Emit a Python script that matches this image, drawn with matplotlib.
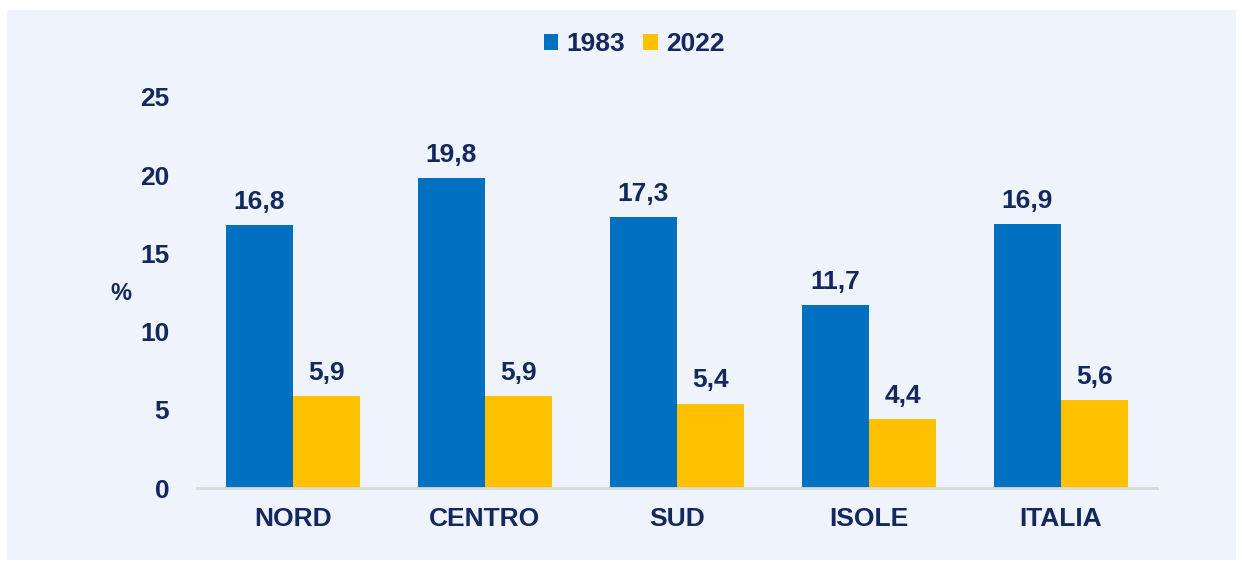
import numpy as np
import matplotlib.pyplot as plt
from matplotlib.patches import Rectangle

categories = ['NORD', 'CENTRO', 'SUD', 'ISOLE', 'ITALIA']
values_1983 = [16.8, 19.8, 17.3, 11.7, 16.9]
values_2022 = [5.9, 5.9, 5.4, 4.4, 5.6]
series_names = ['1983', '2022']

blue = '#0070C0'
yellow = '#FFC000'
navy = '#14285F'
panel = '#EFF3FB'

plt.rcParams['font.family'] = ['Liberation Sans', 'DejaVu Sans']
plt.rcParams['font.weight'] = 'bold'

fig = plt.figure(figsize=(12.42, 5.65), dpi=100, facecolor='white')
fig.patches.append(Rectangle((7 / 1242, 5 / 565), 1229 / 1242, 550 / 565,
                             transform=fig.transFigure, facecolor=panel,
                             edgecolor='none', zorder=-1))

ax = fig.add_axes([197 / 1242, 77 / 565, 960 / 1242, 391 / 565])
ax.set_facecolor('none')

x = np.arange(len(categories))
w = 0.35
b1 = ax.bar(x - w / 2, values_1983, w, color=blue, label=series_names[0])
b2 = ax.bar(x + w / 2, values_2022, w, color=yellow, label=series_names[1])

for bars, vals in ((b1, values_1983), (b2, values_2022)):
    for r, v in zip(bars, vals):
        ax.annotate(f'{v:.1f}'.replace('.', ','),
                    (r.get_x() + r.get_width() / 2, v),
                    xytext=(0, 8), textcoords='offset points',
                    ha='center', va='bottom', fontsize=19,
                    fontweight='bold', color=navy)

ax.set_xlim(-0.5, 4.5)
ax.set_ylim(0, 25)
ax.set_yticks([0, 5, 10, 15, 20, 25])
ax.set_xticks(x)
ax.set_xticklabels(categories)
ax.tick_params(axis='both', length=0, labelsize=19, labelcolor=navy)
ax.tick_params(axis='y', pad=20)
ax.tick_params(axis='x', pad=14)
for lab in ax.get_xticklabels() + ax.get_yticklabels():
    lab.set_fontweight('bold')

for s in ['top', 'right', 'left']:
    ax.spines[s].set_visible(False)
ax.spines['bottom'].set_color('#D9D9D9')
ax.spines['bottom'].set_linewidth(2)

fig.text(121 / 1242, 1 - 294 / 565, '%', ha='center', va='center',
         fontsize=17, fontweight='bold', color=navy)

leg = ax.legend(loc='center', bbox_to_anchor=(634 / 1242, 1 - 44 / 565),
                bbox_transform=fig.transFigure, ncol=2, frameon=False,
                handlelength=0.55, handleheight=0.55, handletextpad=0.3,
                columnspacing=0.7, prop={'size': 19, 'weight': 'bold'})
for t in leg.get_texts():
    t.set_color(navy)

fig.savefig('out.png', dpi=100, facecolor='white')
